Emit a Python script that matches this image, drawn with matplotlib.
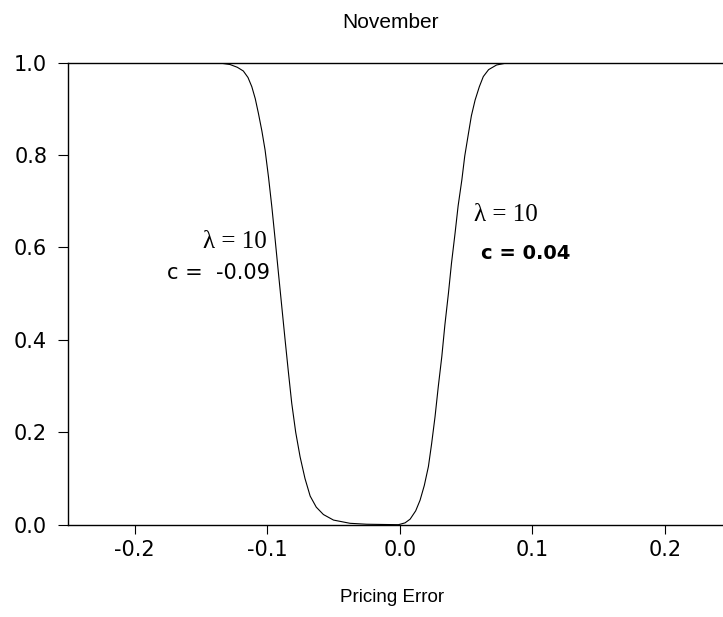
import matplotlib.pyplot as plt

## Values
pricing_error = [-0.25, -0.143, -0.135, -0.128, -0.1225, -0.118, -0.1145, -0.1116, -0.109,
                 -0.1066, -0.104, -0.1016, -0.099, -0.0965, -0.094, -0.0915, -0.089,
                 -0.0865, -0.084, -0.0815, -0.0785, -0.0752, -0.0715, -0.0676, -0.063,
                 -0.0576, -0.050, -0.0375, -0.025, -0.001, 0.004, 0.0078, 0.012,
                 0.0153, 0.0185, 0.0216, 0.024, 0.0266, 0.029, 0.0317, 0.034,
                 0.0367, 0.039, 0.0417, 0.044, 0.0468, 0.049, 0.0518, 0.054,
                 0.0568, 0.060, 0.063, 0.067, 0.073, 0.080, 0.088, 0.25]
transition = [1.0, 1.0, 0.999, 0.996, 0.990, 0.982, 0.968, 0.948, 0.922,
              0.890, 0.852, 0.811, 0.752, 0.688, 0.617, 0.544, 0.472,
              0.400, 0.330, 0.263, 0.200, 0.147, 0.100, 0.062, 0.038,
              0.022, 0.010, 0.003, 0.001, 0.0, 0.004, 0.012, 0.030,
              0.053, 0.085, 0.126, 0.175, 0.234, 0.298, 0.364, 0.432,
              0.501, 0.566, 0.631, 0.690, 0.746, 0.798, 0.847, 0.885,
              0.919, 0.948, 0.970, 0.985, 0.995, 0.999, 1.0, 1.0]
x_ticks = [-0.2, -0.1, 0.0, 0.1, 0.2]
y_ticks = [0.0, 0.2, 0.4, 0.6, 0.8, 1.0]

plt.rcParams['font.family'] = ['Liberation Sans', 'DejaVu Sans']

fig = plt.figure(figsize=(7.23, 6.17), dpi=100)
# right edge of the axes runs past the figure (the original is cropped there)
ax = fig.add_axes([0.0945, 0.1496, 0.9169, 0.7488])

ax.plot(pricing_error, transition, color='black', lw=0.8)

ax.set_xlim(-0.25, 0.25)
ax.set_ylim(0.0, 1.0)
ax.set_xticks(x_ticks)
ax.set_xticklabels(['%.1f' % t for t in x_ticks])
ax.set_yticks(y_ticks)
ax.set_yticklabels(['%.1f' % t for t in y_ticks])
ax.tick_params(axis='y', length=7.2, width=0.8, pad=8, labelsize=15)
ax.tick_params(axis='x', length=6.2, width=0.8, pad=5, labelsize=15)
for lab in ax.get_xticklabels() + ax.get_yticklabels():
    lab.set_family('DejaVu Sans')
for side in ['left', 'bottom', 'top']:
    ax.spines[side].set_linewidth(1.0)
ax.spines['right'].set_visible(False)

serif = ['Liberation Serif', 'DejaVu Serif']
ax.text(-0.100, 0.612, 'λ = 10', family=serif, fontsize=18, ha='right', va='center')
ax.text(-0.0977, 0.545, 'c =  -0.09', family='DejaVu Sans', fontsize=15, ha='right', va='center')
ax.text(0.056, 0.670, 'λ = 10', family=serif, fontsize=18, ha='left', va='center')
ax.text(0.0613, 0.586, 'c = 0.04', family='DejaVu Sans', fontsize=14, fontweight='bold',
        ha='left', va='center')

fig.text(391 / 723, 1 - 22 / 617, 'November', fontsize=15, ha='center', va='center')
fig.text(392 / 723, 1 - 598 / 617, 'Pricing Error', fontsize=13.5, ha='center', va='center')

plt.savefig('out.png', dpi=100)
